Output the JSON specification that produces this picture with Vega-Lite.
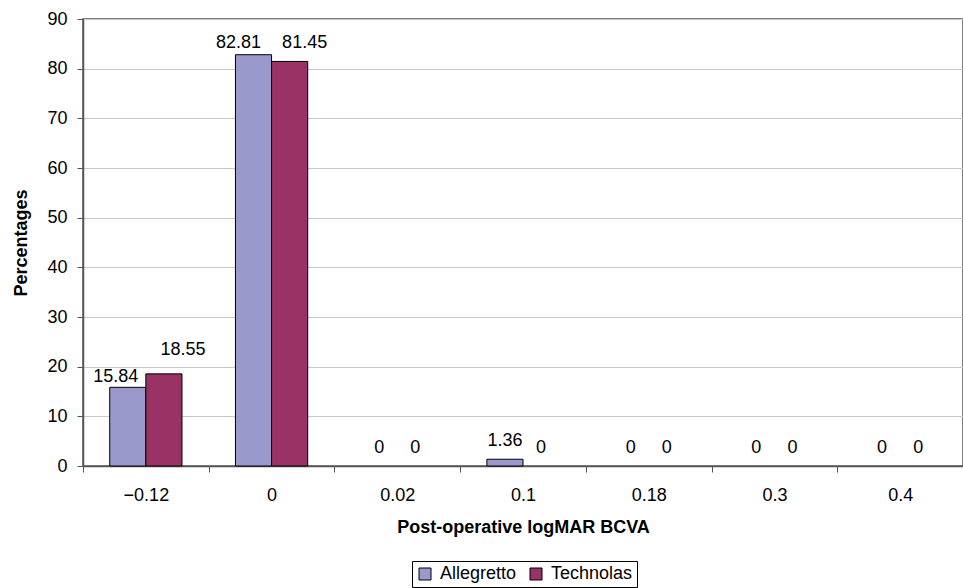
{
  "$schema": "https://vega.github.io/schema/vega-lite/v6.json",
  "width": 880,
  "height": 447,
  "autosize": {"type": "none"},
  "padding": {"left": 83, "top": 19, "right": 0, "bottom": 122},
  "background": "white",
  "config": {
    "font": "Liberation Sans",
    "view": {"stroke": "#555555", "strokeWidth": 1.5}
  },
  "data": {
    "values": [
      {"logMAR": "−0.12", "laser": "Allegretto", "pct": 15.84},
      {"logMAR": "−0.12", "laser": "Technolas", "pct": 18.55},
      {"logMAR": "0", "laser": "Allegretto", "pct": 82.81},
      {"logMAR": "0", "laser": "Technolas", "pct": 81.45},
      {"logMAR": "0.02", "laser": "Allegretto", "pct": 0},
      {"logMAR": "0.02", "laser": "Technolas", "pct": 0},
      {"logMAR": "0.1", "laser": "Allegretto", "pct": 1.36},
      {"logMAR": "0.1", "laser": "Technolas", "pct": 0},
      {"logMAR": "0.18", "laser": "Allegretto", "pct": 0},
      {"logMAR": "0.18", "laser": "Technolas", "pct": 0},
      {"logMAR": "0.3", "laser": "Allegretto", "pct": 0},
      {"logMAR": "0.3", "laser": "Technolas", "pct": 0},
      {"logMAR": "0.4", "laser": "Allegretto", "pct": 0},
      {"logMAR": "0.4", "laser": "Technolas", "pct": 0}
    ]
  },
  "encoding": {
    "x": {
      "field": "logMAR",
      "type": "nominal",
      "sort": ["−0.12", "0", "0.02", "0.1", "0.18", "0.3", "0.4"],
      "scale": {"paddingInner": 0, "paddingOuter": 0},
      "axis": {
        "title": "Post-operative logMAR BCVA",
        "titleFontSize": 18,
        "titleFontWeight": "bold",
        "titleColor": "black",
        "titlePadding": 14,
        "labelAngle": 0,
        "labelFontSize": 18,
        "labelColor": "black",
        "labelPadding": 14,
        "tickBand": "extent",
        "tickSize": 6,
        "tickColor": "#555555",
        "domainColor": "#555555",
        "domainWidth": 1.5,
        "grid": false
      }
    },
    "xOffset": {
      "field": "laser",
      "type": "nominal",
      "scale": {"paddingInner": 0, "paddingOuter": 0.74}
    },
    "y": {
      "field": "pct",
      "type": "quantitative",
      "scale": {"domain": [0, 90], "nice": false},
      "axis": {
        "title": "Percentages",
        "titleFontSize": 18,
        "titleFontWeight": "bold",
        "titleColor": "black",
        "titlePadding": 16,
        "values": [0, 10, 20, 30, 40, 50, 60, 70, 80, 90],
        "labelFontSize": 18,
        "labelColor": "black",
        "labelPadding": 10,
        "tickSize": 6,
        "tickColor": "#555555",
        "domainColor": "#555555",
        "domainWidth": 1.5,
        "gridColor": "#c8c8c8",
        "gridWidth": 1
      }
    },
    "text": {"field": "pct", "type": "quantitative"}
  },
  "layer": [
    {
      "mark": {"type": "bar", "stroke": "black", "strokeWidth": 1},
      "encoding": {
        "text": null,
        "strokeOpacity": {"condition": {"test": "datum.pct === 0", "value": 0}, "value": 1},
        "color": {
          "field": "laser",
          "type": "nominal",
          "scale": {"domain": ["Allegretto", "Technolas"], "range": ["#9999CC", "#993366"]},
          "legend": {
            "title": null,
            "orient": "none",
            "direction": "horizontal",
            "legendX": 329,
            "legendY": 542,
            "symbolType": "square",
            "symbolSize": 144,
            "symbolStrokeColor": "black",
            "symbolStrokeWidth": 1,
            "symbolOpacity": 1,
            "labelFontSize": 18,
            "labelColor": "black",
            "labelOffset": 6,
            "columnPadding": 10,
            "padding": 4,
            "strokeColor": "black",
            "fillColor": "white"
          }
        }
      }
    },
    {
      "transform": [{"filter": {"not": {"field": "logMAR", "oneOf": ["−0.12", "0"]}}}],
      "mark": {"type": "text", "baseline": "alphabetic", "dy": -13, "fontSize": 18, "color": "black"}
    },
    {
      "transform": [{"filter": "datum.logMAR === '−0.12' && datum.laser === 'Allegretto'"}],
      "mark": {"type": "text", "baseline": "alphabetic", "dy": -5, "dx": -12, "fontSize": 18, "color": "black"}
    },
    {
      "transform": [{"filter": "datum.logMAR === '−0.12' && datum.laser === 'Technolas'"}],
      "mark": {"type": "text", "baseline": "alphabetic", "dy": -19, "dx": 19, "fontSize": 18, "color": "black"}
    },
    {
      "transform": [{"filter": "datum.logMAR === '0' && datum.laser === 'Allegretto'"}],
      "mark": {"type": "text", "baseline": "alphabetic", "dy": -7, "dx": -15, "fontSize": 18, "color": "black"}
    },
    {
      "transform": [{"filter": "datum.logMAR === '0' && datum.laser === 'Technolas'"}],
      "mark": {"type": "text", "baseline": "alphabetic", "dy": -13, "dx": 15, "fontSize": 18, "color": "black"}
    }
  ]
}
